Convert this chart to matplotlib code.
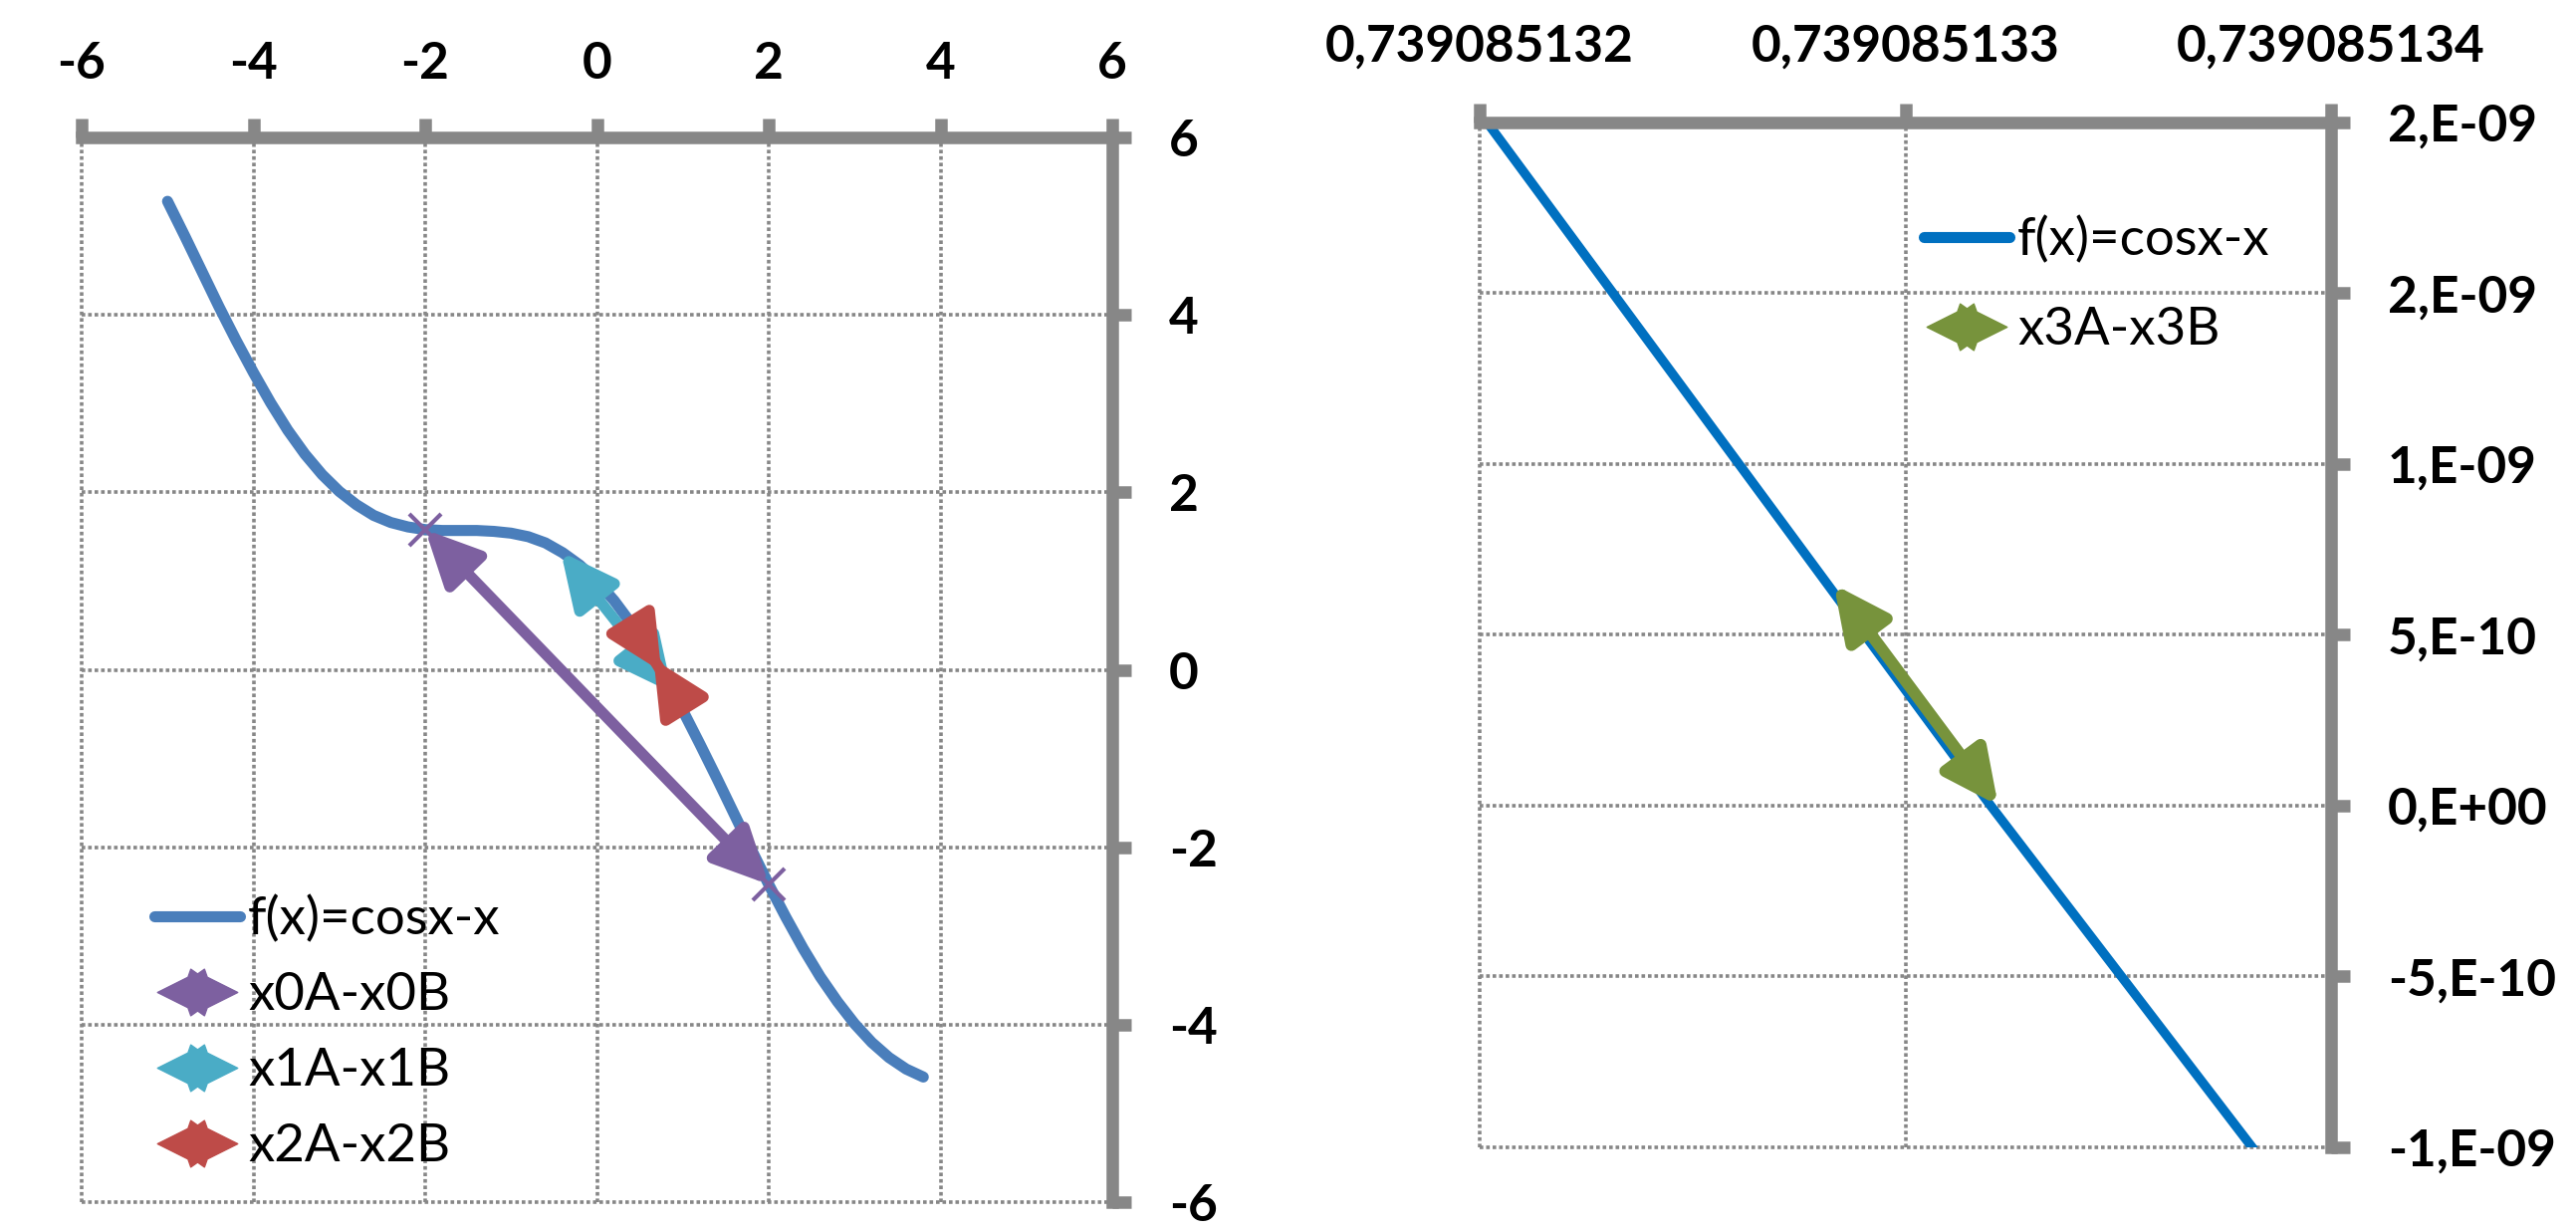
import matplotlib
matplotlib.use('Agg')
import matplotlib.pyplot as plt
from matplotlib.lines import Line2D
from matplotlib.patches import FancyArrowPatch
from matplotlib.path import Path

plt.rcParams['font.family'] = ['Lato', 'DejaVu Sans']

## Данные левого графика: f(x)=cosx-x
x_curve = [-5.0, -4.8, -4.6, -4.4, -4.2, -4.0, -3.8, -3.6, -3.4, -3.2,
           -3.0, -2.8, -2.6, -2.4, -2.2, -2.0, -1.8, -1.6, -1.4, -1.2,
           -1.0, -0.8, -0.6, -0.4, -0.2, 0.0, 0.2, 0.4, 0.6, 0.8,
           1.0, 1.2, 1.4, 1.6, 1.8, 2.0, 2.2, 2.4, 2.6, 2.8,
           3.0, 3.2, 3.4, 3.6, 3.8]
y_curve = [5.28, 4.89, 4.49, 4.09, 3.71, 3.35, 3.01, 2.70, 2.43, 2.20,
           2.01, 1.86, 1.74, 1.66, 1.61, 1.58, 1.57, 1.57, 1.57, 1.56,
           1.54, 1.50, 1.43, 1.32, 1.18, 1.00, 0.78, 0.52, 0.23, -0.10,
           -0.46, -0.84, -1.23, -1.63, -2.03, -2.42, -2.79, -3.14, -3.46, -3.74,
           -3.99, -4.20, -4.37, -4.50, -4.59]

## Отрезки xA-xB
x0 = [-2.0, 2.0]
y0 = [1.58, -2.42]
x1 = [-0.42, 0.88]
y1 = [1.33, -0.26]
x2 = [0.66, 0.75]
y2 = [0.12, -0.02]

## Данные правого графика
x_zoom = [0.739085132, 0.7390851332, 0.73908513382]
y_zoom = [2.03e-9, 0.0, -1.01e-9]
x3 = [0.739085132832, 0.739085133218]
y3 = [6.47e-10, 0.0]

## Подписи осей
ticks_left = [-6, -4, -2, 0, 2, 4, 6]
xticks_right = [0.739085132, 0.739085133, 0.739085134]
xlabels_right = ['0,739085132', '0,739085133', '0,739085134']
yticks_right = [-1e-9, -5e-10, 0.0, 5e-10, 1e-9, 1.5e-9, 2e-9]
ylabels_right = ['-1,E-09', '-5,E-10', '0,E+00', '5,E-10', '1,E-09', '2,E-09', '2,E-09']

gray = '#878787'
W, H = 2587, 1237
fig = plt.figure(figsize=(W / 100, H / 100), dpi=100)
ax1 = fig.add_axes([82 / W, 1 - 1207 / H, (1117 - 82) / W, (1207 - 138) / H])
ax2 = fig.add_axes([1486 / W, 1 - 1151.5 / H, (2341 - 1486) / W, (1151.5 - 123) / H])


def style(ax, xt, xl, yt, yl, xpad, ypad):
    ax.set_xticks(xt)
    ax.set_xticklabels(xl, fontweight='bold')
    ax.set_yticks(yt)
    ax.set_yticklabels(yl, fontweight='bold')
    ax.xaxis.tick_top()
    ax.yaxis.tick_right()
    for s in ['left', 'bottom']:
        ax.spines[s].set_visible(False)
    for s in ['top', 'right']:
        ax.spines[s].set_linewidth(9)
        ax.spines[s].set_color(gray)
        ax.spines[s].set_capstyle('projecting')
    ax.tick_params(length=14, width=9, color=gray, direction='out', labelsize=37)
    ax.tick_params(axis='x', pad=xpad)
    ax.tick_params(axis='y', pad=ypad)
    ax.grid(True, color=gray, lw=2.6, linestyle=(0, (1, 0.8)))
    for gl in ax.get_xgridlines() + ax.get_ygridlines():
        gl.set_clip_on(False)


def arrow(ax, xs, ys, color, lw):
    p = FancyArrowPatch((xs[0], ys[0]), (xs[1], ys[1]),
                        arrowstyle='<|-|>,head_length=33,head_width=16',
                        mutation_scale=1, color=color, lw=lw,
                        shrinkA=0, shrinkB=0, zorder=3)
    ax.add_patch(p)


## Маркер для легенды (ромб с засечками)
verts = [(-1, 0), (-0.24, 0.38), (-0.17, 0.58), (0, 0.46), (0.17, 0.58), (0.24, 0.38),
         (1, 0), (0.24, -0.38), (0.17, -0.58), (0, -0.46), (-0.17, -0.58), (-0.24, -0.38),
         (-1, 0)]
diamond = Path(verts, closed=True)

## Левый график
ax1.plot(x_curve, y_curve, color='#4A7EBB', lw=8, solid_capstyle='round', zorder=2)
arrow(ax1, x0, y0, '#7D60A0', 8)
ax1.plot(x0, y0, 'x', color='#7D60A0', ms=23, mew=3, zorder=4)
arrow(ax1, x1, y1, '#4AACC6', 8)
arrow(ax1, x2, y2, '#BE4B48', 8)
ax1.set_xlim(-6, 6)
ax1.set_ylim(-6, 6)
style(ax1, ticks_left, [str(t) for t in ticks_left], ticks_left, [str(t) for t in ticks_left], 22, 27)

h1 = [Line2D([], [], color='#4A7EBB', lw=8, solid_capstyle='round'),
      Line2D([], [], ls='none', marker=diamond, ms=58, color='#7D60A0'),
      Line2D([], [], ls='none', marker=diamond, ms=58, color='#4AACC6'),
      Line2D([], [], ls='none', marker=diamond, ms=58, color='#BE4B48')]
ax1.legend(h1, ['f(x)=cosx-x', 'x0A-x0B', 'x1A-x1B', 'x2A-x2B'],
           loc='upper left', bbox_to_anchor=(155 / W, 1 - 899 / H),
           bbox_transform=fig.transFigure, frameon=False, borderpad=0,
           borderaxespad=0, handlelength=1.63, handletextpad=0.15,
           labelspacing=0.55, fontsize=38)

## Правый график
ax2.plot(x_zoom, y_zoom, color='#0070C0', lw=6.8, zorder=2)
arrow(ax2, x3, y3, '#77933C', 8.5)
ax2.set_xlim(0.739085132, 0.739085134)
ax2.set_ylim(-1e-9, 2e-9)
style(ax2, xticks_right, xlabels_right, yticks_right, ylabels_right, 24, 27)

h2 = [Line2D([], [], color='#0070C0', lw=8, solid_capstyle='round'),
      Line2D([], [], ls='none', marker=diamond, ms=58, color='#77933C')]
ax2.legend(h2, ['f(x)=cosx-x', 'x3A-x3B'],
           loc='upper left', bbox_to_anchor=(1932 / W, 1 - 217 / H),
           bbox_transform=fig.transFigure, frameon=False, borderpad=0,
           borderaxespad=0, handlelength=1.63, handletextpad=0.15,
           labelspacing=0.81, fontsize=38)

fig.savefig('out.png', dpi=100, facecolor='white')
